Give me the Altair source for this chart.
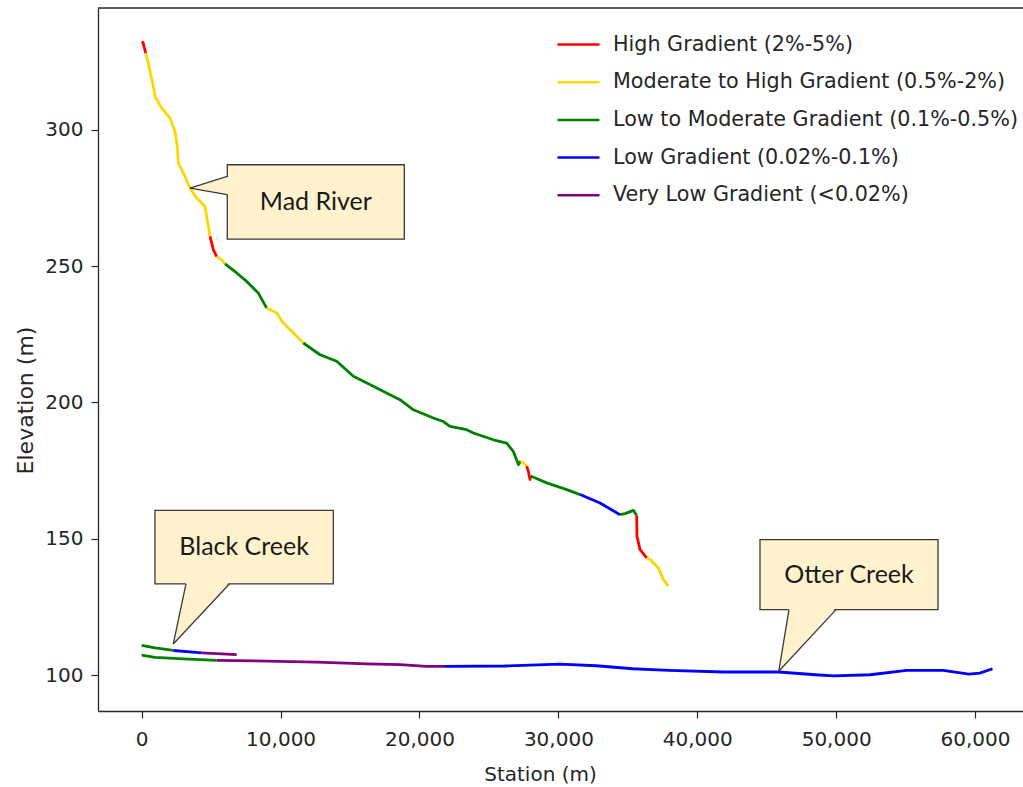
import altair as alt
import pandas as pd

# ---------------- data ----------------
CLASS_CODES = ["H", "M", "L", "B", "V"]
CLASS_LABELS = [
    "High Gradient (2%-5%)",
    "Moderate to High Gradient (0.5%-2%)",
    "Low to Moderate Gradient (0.1%-0.5%)",
    "Low Gradient (0.02%-0.1%)",
    "Very Low Gradient (<0.02%)",
]
CLASS_COLORS = ["#ff0000", "#ffd700", "#008000", "#0000ff", "#800080"]

# Mad River profile (station m, elevation m, gradient class of the segment starting at the point)
MAD_STATION = [0, 100, 290, 480, 835, 960, 1440, 2040, 2400, 2560,
               2640, 3120, 3480, 3960, 4560, 4680, 4800, 4920, 5160, 5280,
               5400, 5760, 6000, 6840, 7560, 8400, 9000, 9720, 10200, 10920,
               11520, 11640, 12840, 14040, 15240, 16680, 18120, 18600, 19560, 21000,
               21720, 22200, 23400, 23880, 25320, 26280, 26760, 27120, 27300, 27720,
               27840, 27960, 28000, 29160, 30600, 31560, 33000, 34440, 34800, 35400,
               35640, 35660, 35880, 36360, 36600, 37200, 37560, 37920]
MAD_ELEV = [332.4, 332.0, 328.1, 324.4, 315.9, 312.2, 308.0, 304.3, 299.4, 293.9,
            287.8, 282.9, 278.6, 275.0, 271.9, 268.2, 264.5, 260.9, 256.0, 254.8,
            253.5, 252.3, 250.8, 247.5, 244.4, 240.1, 234.6, 232.8, 229.1, 225.5,
            222.4, 221.8, 217.5, 215.1, 209.6, 205.9, 202.2, 201.0, 197.3, 194.3,
            193.0, 191.2, 190.0, 188.8, 186.3, 185.1, 182.0, 177.2, 178.5, 176.6,
            174.7, 171.7, 173.0, 170.5, 168.0, 166.2, 163.1, 158.8, 159.2, 160.4,
            158.5, 150.9, 146.0, 143.0, 142.4, 139.3, 135.0, 132.6]
MAD_CLASS = ("HH" "MMMMMMMMMMMMMMM" "HHH" "MM" "LLLL" "MMMMM"
             "LLLLLLLLLLLLLLLLL" "M" "HHH" "LLL" "BB" "LLL" "HHH" "MMMMM")

# Black Creek (short upper profile)
BLACK_STATION = [0, 960, 2280, 4320, 6840]
BLACK_ELEV = [110.9, 110.0, 109.0, 108.1, 107.5]
BLACK_CLASS = "LLBVV"

# Otter Creek (long lower profile)
OTTER_STATION = [0, 960, 3000, 5400, 9000, 12600, 16200, 18600, 20520, 21840,
                 26140, 30090, 32720, 35350, 37980, 41920, 45870, 48500, 49810, 52450,
                 55080, 57710, 59550, 60340, 61260]
OTTER_ELEV = [107.3, 106.5, 105.9, 105.4, 105.1, 104.7, 104.1, 103.8, 103.2, 103.2,
              103.3, 104.0, 103.4, 102.3, 101.7, 101.1, 101.1, 100.1, 99.7, 100.1,
              101.7, 101.7, 100.3, 100.7, 102.3]
OTTER_CLASS = "LLLVVVVVVBBBBBBBBBBBBBBBB"

# Callouts (data coordinates)
CALLOUT_TEXT = ["Mad River", "Black Creek", "Otter Creek"]
BOX_X0 = [6163, 958, 44518]
BOX_X1 = [18907, 13795, 57334]
BOX_Y0 = [259.9, 133.4, 124.0]
BOX_Y1 = [287.2, 160.4, 149.7]
TIP_X = [3478, 2275, 45870]
TIP_Y = [278.6, 111.4, 101.4]
BASE_AX = [6163, 3190, 46606]
BASE_AY = [282.9, 133.4, 124.0]
BASE_BX = [6163, 6307, 49990]
BASE_BY = [276.2, 133.4, 124.0]

X_TICKS = [0, 10000, 20000, 30000, 40000, 50000, 60000]
Y_TICKS = [100, 150, 200, 250, 300]
X_DOMAIN = [-3146, 63454]
Y_DOMAIN = [86.8, 344.7]

assert len(MAD_STATION) == len(MAD_ELEV) == len(MAD_CLASS)
assert len(OTTER_STATION) == len(OTTER_ELEV) == len(OTTER_CLASS)

# ---------------- build tables ----------------
code_to_label = dict(zip(CLASS_CODES, CLASS_LABELS))


def river_rows(name, st, el, cls):
    rows = []
    segs = []
    for i in range(len(st) - 1):
        if i == 0 or cls[i] != cls[i - 1]:
            segs.append((cls[i], [i]))
        segs[-1][1].append(i + 1)
    for k, (c, idxs) in enumerate(segs):
        for j in idxs:
            rows.append({"river": name, "seg": f"{name}-{k}", "station": st[j],
                         "elev": el[j], "cls": code_to_label[c], "ord": j})
    return rows


rivers = pd.DataFrame(
    river_rows("Mad River", MAD_STATION, MAD_ELEV, MAD_CLASS)
    + river_rows("Black Creek", BLACK_STATION, BLACK_ELEV, BLACK_CLASS)
    + river_rows("Otter Creek", OTTER_STATION, OTTER_ELEV, OTTER_CLASS)
)

boxes = pd.DataFrame({
    "name": CALLOUT_TEXT, "x0": BOX_X0, "x1": BOX_X1, "y0": BOX_Y0, "y1": BOX_Y1,
    "cx": [(a + b) / 2 for a, b in zip(BOX_X0, BOX_X1)],
    "cy": [(a + b) / 2 for a, b in zip(BOX_Y0, BOX_Y1)],
})

edges = pd.DataFrame({
    "x": TIP_X + TIP_X, "y": TIP_Y + TIP_Y,
    "x2": BASE_AX + BASE_BX, "y2": BASE_AY + BASE_BY,
})

# pointer fills: vertical-base (Mad River) and horizontal-base (others)
vrows, hrows = [], []
for i, name in enumerate(CALLOUT_TEXT):
    if BASE_AX[i] == BASE_BX[i]:
        vrows.append({"g": name, "x": TIP_X[i], "y": TIP_Y[i], "y2": TIP_Y[i]})
        vrows.append({"g": name, "x": BASE_AX[i] + 150, "y": BASE_AY[i], "y2": BASE_BY[i]})
    else:
        hrows.append({"g": name, "y": TIP_Y[i], "x": TIP_X[i], "x2": TIP_X[i]})
        hrows.append({"g": name, "y": BASE_AY[i] + 0.75, "x": BASE_AX[i], "x2": BASE_BX[i]})
vfill = pd.DataFrame(vrows)
hfill = pd.DataFrame(hrows)

# ---------------- scales / axes ----------------
XS = alt.Scale(domain=X_DOMAIN, nice=False, zero=False)
YS = alt.Scale(domain=Y_DOMAIN, nice=False, zero=False)
XA = alt.Axis(title="Station (m)", values=X_TICKS, format=",d", grid=False,
              tickSize=7, labelPadding=11, titleX=442, titleY=63,
              titleBaseline="middle", titleAlign="center")
YA = alt.Axis(title="Elevation (m)", values=Y_TICKS, format="d", grid=False,
              tickSize=7, labelPadding=8, titleX=-73, titleY=392, titleAngle=270,
              titleAlign="center", titleBaseline="middle", titleFontSize=22)


def X(f):
    return alt.X(f, type="quantitative", scale=XS, axis=XA)


def Y(f):
    return alt.Y(f, type="quantitative", scale=YS, axis=YA)


FILL = "#fff2cc"
EDGE = "#3a3a3a"

lines = alt.Chart(rivers).mark_line(strokeWidth=2.8, strokeJoin="round").encode(
    x=X("station"),
    y=Y("elev"),
    color=alt.Color("cls:N",
                    scale=alt.Scale(domain=CLASS_LABELS, range=CLASS_COLORS),
                    legend=alt.Legend(orient="none", legendX=458, legendY=14, title=None,
                                      symbolType="stroke", symbolSize=1764,
                                      symbolStrokeWidth=2.5, labelOffset=12,
                                      rowPadding=4.7, padding=0, labelLimit=600,
                                      labelFontSize=20.7, labelFont="DejaVu Sans",
                                      labelColor="#262626")),
    detail="seg:N",
    order="ord:Q",
)

rects = alt.Chart(boxes).mark_rect(fill=FILL, stroke=EDGE, strokeWidth=1.3).encode(
    x=X("x0"), x2="x1", y=Y("y0"), y2="y1"
)

vpoint = alt.Chart(vfill).mark_area(fill=FILL, orient="vertical").encode(
    x=X("x"), y=Y("y"), y2="y2", detail="g:N"
)
hpoint = alt.Chart(hfill).mark_area(fill=FILL, orient="horizontal").encode(
    y=Y("y"), x=X("x"), x2="x2", detail="g:N"
)
pedges = alt.Chart(edges).mark_rule(color=EDGE, strokeWidth=1.3).encode(
    x=X("x"), y=Y("y"), x2="x2", y2="y2"
)
labels = alt.Chart(boxes).mark_text(font="Lato", fontSize=25, color="#1a1a1a",
                                    align="center", baseline="middle").encode(
    x=X("cx"), y=Y("cy"), text="name:N"
)
top_spine = alt.Chart(pd.DataFrame({"k": [0]})).mark_rule(color="#262626", strokeWidth=1.3).encode(
    x=alt.value(0), x2=alt.value(925), y=alt.value(0)
)

chart = alt.layer(lines, rects, vpoint, hpoint, pedges, labels, top_spine).properties(
    width=925, height=703,
    autosize=alt.AutoSizeParams(type="none"),
    padding={"left": 98, "top": 8, "right": 0, "bottom": 76},
).configure_view(stroke="transparent").configure_axis(
    labelFont="DejaVu Sans", labelFontSize=20, labelColor="#262626",
    titleFont="DejaVu Sans", titleFontSize=20, titleFontWeight="normal", titleColor="#262626",
    domainColor="#262626", domainWidth=1.3, tickColor="#262626", tickWidth=1.2,
)

chart.save("out.html", embed_options={"renderer": "svg", "actions": False})
